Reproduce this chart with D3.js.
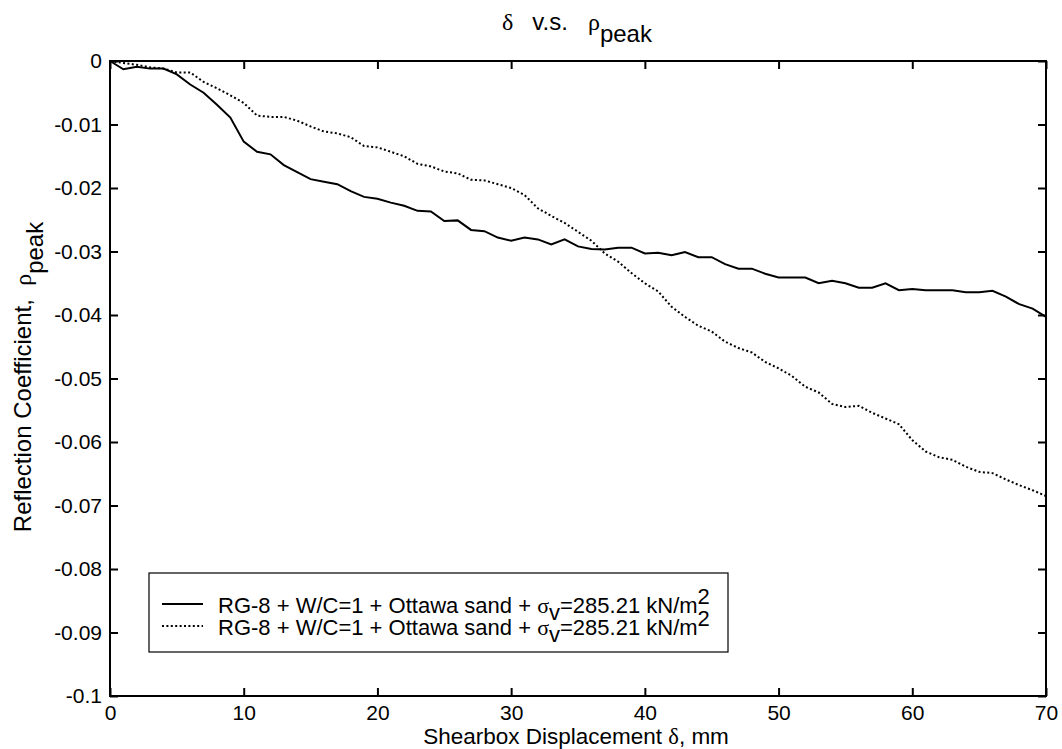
<!DOCTYPE html>
<html lang="en">
<head>
    <meta charset="UTF-8">
    <title>delta vs rho peak</title>
    <script src="https://d3js.org/d3.v7.min.js"></script>
    <style>
        body { margin: 0; background: #fff; }
        text { font-family: "Liberation Sans", Arial, sans-serif; font-size: 21px; fill: #000; white-space: pre; }
        .greek { font-family: "Liberation Serif", "DejaVu Serif", serif; }
        .title { font-size: 24px; }
        .ylab { font-size: 24px; }
        .xlab { font-size: 22.5px; }
        .legend text { font-size: 22px; }
    </style>
</head>
<body>
    <svg width="1062" height="749"></svg>

    <script>
        // shearbox displacement, mm
        const displacement = [0, 1, 2, 3, 4, 5, 6, 7, 8, 9, 10, 11, 12, 13, 14, 15, 16, 17, 18, 19,
            20, 21, 22, 23, 24, 25, 26, 27, 28, 29, 30, 31, 32, 33, 34, 35, 36, 37, 38, 39,
            40, 41, 42, 43, 44, 45, 46, 47, 48, 49, 50, 51, 52, 53, 54, 55, 56, 57, 58, 59,
            60, 61, 62, 63, 64, 65, 66, 67, 68, 69, 70];

        // solid curve
        const rhoSolid = [0, -0.0013, -0.0009, -0.0012, -0.0012, -0.0021, -0.0037, -0.0050, -0.0069, -0.0089,
            -0.0127, -0.0143, -0.0147, -0.0164, -0.0175, -0.0186, -0.0190, -0.0194, -0.0205, -0.0214,
            -0.0217, -0.0223, -0.0228, -0.0236, -0.0237, -0.0252, -0.0251, -0.0266, -0.0268, -0.0278,
            -0.0283, -0.0278, -0.0281, -0.0289, -0.0281, -0.0292, -0.0296, -0.0297, -0.0294, -0.0294,
            -0.0303, -0.0302, -0.0306, -0.0301, -0.0309, -0.0309, -0.0320, -0.0327, -0.0327, -0.0335,
            -0.0341, -0.0341, -0.0341, -0.0350, -0.0346, -0.0350, -0.0357, -0.0357, -0.0350, -0.0361,
            -0.0359, -0.0361, -0.0361, -0.0361, -0.0364, -0.0364, -0.0362, -0.0371, -0.0383, -0.0390,
            -0.0403];

        // dotted curve
        const rhoDotted = [0, -0.0003, -0.0006, -0.0010, -0.0012, -0.0018, -0.0018, -0.0033, -0.0043, -0.0054,
            -0.0066, -0.0086, -0.0088, -0.0088, -0.0094, -0.0103, -0.0111, -0.0114, -0.0120, -0.0134,
            -0.0136, -0.0143, -0.0150, -0.0162, -0.0166, -0.0174, -0.0177, -0.0187, -0.0188, -0.0194,
            -0.0200, -0.0211, -0.0232, -0.0244, -0.0255, -0.0269, -0.0283, -0.0303, -0.0316, -0.0334,
            -0.0350, -0.0363, -0.0387, -0.0403, -0.0417, -0.0426, -0.0442, -0.0452, -0.0459, -0.0474,
            -0.0484, -0.0496, -0.0513, -0.0522, -0.0540, -0.0545, -0.0543, -0.0554, -0.0563, -0.0572,
            -0.0597, -0.0615, -0.0624, -0.0628, -0.0639, -0.0647, -0.0649, -0.0659, -0.0668, -0.0676,
            -0.0685];

        const xTicks = [0, 10, 20, 30, 40, 50, 60, 70];
        const yTicks = [0, -0.01, -0.02, -0.03, -0.04, -0.05, -0.06, -0.07, -0.08, -0.09, -0.1];
        const legendLabel = "RG-8 + W/C=1 + Ottawa sand + ";

        const svg = d3.select("svg");
        const plotL = 110, plotR = 1046, plotT = 61, plotB = 696;

        const x = d3.scaleLinear().domain([0, 70]).range([plotL, plotR]);
        const y = d3.scaleLinear().domain([-0.1, 0]).range([plotB, plotT]);

        const fmtY = d => d === 0 ? "0" : String(+d.toFixed(2));

        // axes with inward ticks
        svg.append("g")
            .attr("transform", `translate(0,${plotB})`)
            .call(d3.axisBottom(x).tickValues(xTicks).tickSizeInner(-8).tickSizeOuter(0).tickPadding(9).tickFormat(d3.format("d")));
        svg.append("g")
            .attr("transform", `translate(${plotL},0)`)
            .call(d3.axisLeft(y).tickValues(yTicks).tickSizeInner(-8).tickSizeOuter(0).tickPadding(8).tickFormat(fmtY));
        svg.append("g")
            .attr("transform", `translate(0,${plotT})`)
            .call(d3.axisTop(x).tickValues(xTicks).tickSizeInner(-8).tickSizeOuter(0).tickFormat(""));
        svg.append("g")
            .attr("transform", `translate(${plotR},0)`)
            .call(d3.axisRight(y).tickValues(yTicks).tickSizeInner(-8).tickSizeOuter(0).tickFormat(""));

        svg.selectAll(".domain").remove();
        svg.selectAll(".tick line").attr("stroke", "#000").attr("stroke-width", 2);
        svg.selectAll("g").attr("font-family", null).attr("font-size", null);

        svg.append("rect")
            .attr("x", plotL).attr("y", plotT)
            .attr("width", plotR - plotL).attr("height", plotB - plotT)
            .attr("fill", "none").attr("stroke", "#000").attr("stroke-width", 2);

        // curves
        const line = d3.line()
            .x((d, i) => x(displacement[i]))
            .y(d => y(d));

        svg.append("path")
            .datum(rhoSolid)
            .attr("d", line)
            .attr("fill", "none")
            .attr("stroke", "#000")
            .attr("stroke-width", 2);

        svg.append("path")
            .datum(rhoDotted)
            .attr("d", line)
            .attr("fill", "none")
            .attr("stroke", "#000")
            .attr("stroke-width", 2)
            .attr("stroke-dasharray", "2,2.4");

        // title
        const title = svg.append("text")
            .attr("class", "title")
            .attr("x", 577).attr("y", 30)
            .attr("text-anchor", "middle");
        title.append("tspan").attr("class", "greek").text("δ");
        title.append("tspan").attr("dx", 19).text("v.s.");
        title.append("tspan").attr("dx", 20).attr("class", "greek").text("ρ");
        title.append("tspan").attr("dy", 12).text("peak");

        // x label
        const xl = svg.append("text")
            .attr("class", "xlab")
            .attr("x", 576).attr("y", 744)
            .attr("text-anchor", "middle");
        xl.append("tspan").text("Shearbox Displacement ");
        xl.append("tspan").attr("class", "greek").text("δ");
        xl.append("tspan").text(", mm");

        // y label
        const yl = svg.append("text")
            .attr("class", "ylab")
            .attr("transform", "translate(31,377) rotate(-90)")
            .attr("text-anchor", "middle");
        yl.append("tspan").text("Reflection Coefficient,  ");
        yl.append("tspan").attr("class", "greek").text("ρ");
        yl.append("tspan").attr("dy", 12).text("peak");

        // legend
        const lg = svg.append("g").attr("class", "legend");
        lg.append("rect")
            .attr("x", 149).attr("y", 573)
            .attr("width", 579).attr("height", 79)
            .attr("fill", "#fff").attr("stroke", "#000").attr("stroke-width", 1.2);

        const legendRows = [{ dash: null, y: 604 }, { dash: "2,2.4", y: 626 }];
        legendRows.forEach(r => {
            lg.append("line")
                .attr("x1", 162).attr("x2", 203)
                .attr("y1", r.y).attr("y2", r.y)
                .attr("stroke", "#000").attr("stroke-width", 2)
                .attr("stroke-dasharray", r.dash);
            const t = lg.append("text").attr("x", 218).attr("y", r.y + 9);
            t.append("tspan").text(legendLabel);
            t.append("tspan").attr("class", "greek").text("σ");
            t.append("tspan").attr("dy", 7).text("v");
            t.append("tspan").attr("dy", -7).text("=285.21 kN/m");
            t.append("tspan").attr("dy", -9).text("2");
        });
    </script>
</body>
</html>
